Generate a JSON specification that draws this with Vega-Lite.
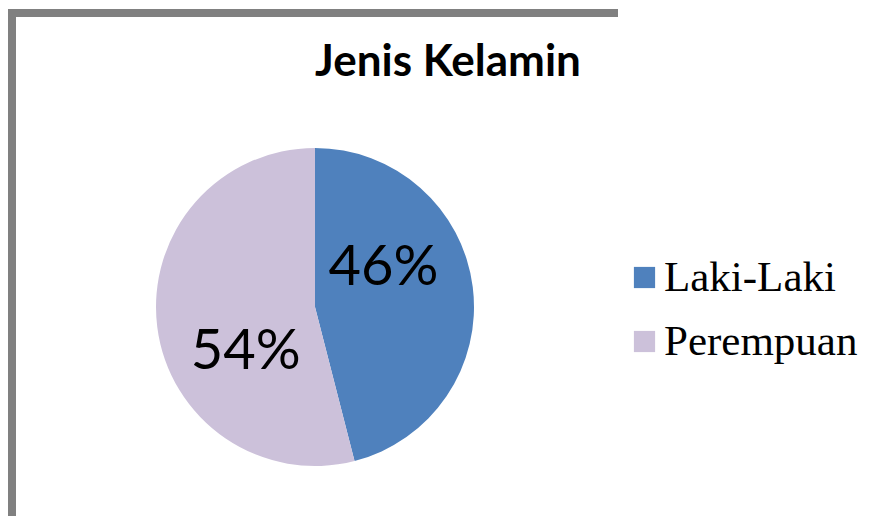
{
  "$schema": "https://vega.github.io/schema/vega-lite/v6.json",
  "width": 606,
  "height": 588,
  "autosize": "none",
  "padding": {"left": 12, "top": 13, "right": 258, "bottom": 0},
  "background": "white",
  "view": {"stroke": "#808080", "strokeWidth": 8, "strokeDash": [606, 1194, 588]},
  "title": {
    "text": "Jenis Kelamin",
    "font": "Lato",
    "fontSize": 44,
    "fontWeight": "bold",
    "color": "black",
    "anchor": "middle",
    "frame": "group",
    "dx": 133,
    "dy": 76
  },
  "data": {
    "values": [
      {"gender": "Laki-Laki", "pct": 46, "label": "46%"},
      {"gender": "Perempuan", "pct": 54, "label": "54%"}
    ]
  },
  "encoding": {
    "theta": {"field": "pct", "type": "quantitative", "stack": true},
    "color": {
      "field": "gender",
      "type": "nominal",
      "scale": {"domain": ["Laki-Laki", "Perempuan"], "range": ["#4F81BD", "#CCC1DA"]},
      "legend": {
        "title": null,
        "orient": "none",
        "legendX": 611,
        "legendY": 243,
        "padding": 0,
        "labelFont": "Liberation Serif",
        "labelFontSize": 43,
        "labelColor": "black",
        "labelLimit": 0,
        "symbolType": "square",
        "symbolSize": 450,
        "symbolStrokeWidth": 0,
        "symbolOpacity": 1,
        "rowPadding": 20,
        "labelOffset": -2
      }
    }
  },
  "layer": [
    {"mark": {"type": "arc", "outerRadius": 159}},
    {
      "mark": {"type": "text", "radius": 80, "dx": -11, "dy": -29, "font": "Lato", "fontSize": 56, "color": "black", "align": "center", "baseline": "middle"},
      "encoding": {
        "text": {"condition": {"test": "datum.gender === 'Laki-Laki'", "field": "label"}, "value": ""},
        "color": {"value": "black"}
      }
    },
    {
      "mark": {"type": "text", "radius": 80, "dx": 10, "dy": 35, "font": "Lato", "fontSize": 56, "color": "black", "align": "center", "baseline": "middle"},
      "encoding": {
        "text": {"condition": {"test": "datum.gender === 'Perempuan'", "field": "label"}, "value": ""},
        "color": {"value": "black"}
      }
    }
  ]
}
